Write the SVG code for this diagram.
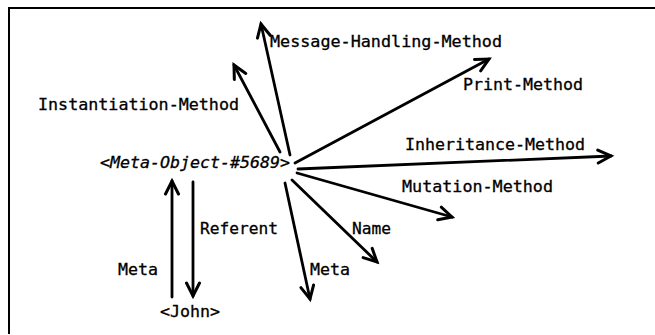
<svg xmlns="http://www.w3.org/2000/svg" width="655" height="335" viewBox="0 0 655 335">
<style>
  .lbl { font-family: "DejaVu Sans Mono", "Liberation Mono", monospace; font-size: 16px; fill: #000; stroke: #000; stroke-width: 0.3; }
  .it { font-style: italic; }
  .arr { stroke: #000; stroke-width: 2.8; fill: none; stroke-linecap: round; marker-end: url(#head); }
  .frame { stroke: #000; stroke-width: 2; fill: none; }
</style>
<defs>
  <marker id="head" markerUnits="userSpaceOnUse" markerWidth="20" markerHeight="20" viewBox="-15 -10 20 20" refX="0" refY="0" orient="auto">
    <path d="M-13,-6.5 L0,0 L-13,6.5" fill="none" stroke="#000" stroke-width="3" stroke-linejoin="miter" stroke-linecap="round"/>
  </marker>
</defs>
<rect width="655" height="335" fill="#fff"/>
<path class="frame" d="M9,334 L9,8 L655,8"/>
<g id="connectors">
  <line class="arr" x1="290" y1="155" x2="261" y2="24"/>
  <line class="arr" x1="280" y1="152" x2="234" y2="65"/>
  <line class="arr" x1="295" y1="163" x2="489" y2="59"/>
  <line class="arr" x1="298" y1="169" x2="611" y2="156"/>
  <line class="arr" x1="297" y1="173" x2="452" y2="217"/>
  <line class="arr" x1="292" y1="180" x2="377" y2="262"/>
  <line class="arr" x1="285" y1="183" x2="310" y2="299"/>
  <line class="arr" x1="172" y1="297" x2="172" y2="181"/>
  <line class="arr" x1="193" y1="182" x2="193" y2="296"/>
</g>
<g id="meta-object"><text class="lbl it" x="100" y="168" textLength="190" lengthAdjust="spacingAndGlyphs">&lt;Meta-Object-#5689&gt;</text></g>
<g id="john"><text class="lbl" x="160" y="317" textLength="60" lengthAdjust="spacingAndGlyphs">&lt;John&gt;</text></g>
<g id="message-handling-method"><text class="lbl" x="270" y="47" textLength="232" lengthAdjust="spacingAndGlyphs">Message-Handling-Method</text></g>
<g id="instantiation-method"><text class="lbl" x="38" y="110" textLength="201" lengthAdjust="spacingAndGlyphs">Instantiation-Method</text></g>
<g id="print-method"><text class="lbl" x="463" y="90" textLength="120" lengthAdjust="spacingAndGlyphs">Print-Method</text></g>
<g id="inheritance-method"><text class="lbl" x="405" y="150" textLength="180" lengthAdjust="spacingAndGlyphs">Inheritance-Method</text></g>
<g id="mutation-method"><text class="lbl" x="402" y="192" textLength="151" lengthAdjust="spacingAndGlyphs">Mutation-Method</text></g>
<g id="name"><text class="lbl" x="352" y="234" textLength="39" lengthAdjust="spacingAndGlyphs">Name</text></g>
<g id="meta-right"><text class="lbl" x="310" y="275" textLength="40" lengthAdjust="spacingAndGlyphs">Meta</text></g>
<g id="referent"><text class="lbl" x="200" y="234" textLength="78" lengthAdjust="spacingAndGlyphs">Referent</text></g>
<g id="meta-left"><text class="lbl" x="118" y="275" textLength="40" lengthAdjust="spacingAndGlyphs">Meta</text></g>
</svg>
